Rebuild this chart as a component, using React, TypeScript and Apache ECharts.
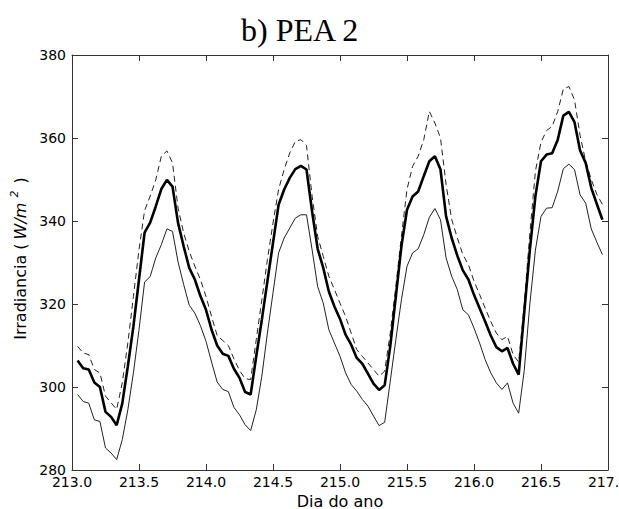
import React, { useEffect, useRef } from "react";
import * as echarts from "echarts";

// Day of year of the first sample, and spacing between samples (hourly)
const START_DAY = 213;
const SAMPLE_STEP = 1 / 24;
const FIRST_HOUR = 1;

// Irradiancia (W/m^2) — thick solid (middle)
const THICK: number[] = [
  306.4, 304.5, 304.2, 301.1, 300.0, 294.0, 292.8, 290.8, 296.0, 305.0,
  314.6, 325.9, 337.2, 339.6, 343.5, 347.7, 349.9, 348.3, 339.5, 333.9,
  328.7, 325.9, 321.9, 318.6, 313.8, 310.0, 308.0, 307.5, 304.4, 302.2,
  298.8, 298.2, 307.4, 316.2, 325.5, 334.7, 343.9, 347.6, 350.4, 352.5,
  353.3, 352.4, 342.3, 333.3, 328.7, 323.0, 319.4, 316.4, 312.6, 310.2,
  307.0, 305.6, 303.2, 300.8, 299.3, 300.4, 309.8, 321.8, 333.9, 342.7,
  345.9, 347.1, 350.8, 354.4, 355.6, 352.4, 341.1, 335.9, 331.7, 328.1,
  325.9, 322.2, 319.0, 315.8, 312.4, 309.6, 308.6, 309.4, 305.6, 303.0,
  318.0, 333.0, 346.0, 354.4, 356.0, 356.3, 359.6, 365.4, 366.3, 363.8,
  357.0, 354.0, 348.0, 344.1, 340.3,
];

// thin solid (lower)
const THIN: number[] = [
  298.2, 296.5, 296.1, 292.1, 291.7, 285.3, 284.1, 282.5, 287.3, 294.5,
  303.4, 313.8, 325.3, 326.6, 331.1, 334.3, 338.1, 337.5, 330.1, 324.7,
  319.7, 317.8, 314.8, 311.0, 306.0, 301.2, 299.4, 298.9, 295.1, 293.3,
  290.9, 289.5, 294.5, 302.6, 313.0, 322.7, 332.3, 335.9, 338.3, 340.7,
  341.5, 341.5, 333.1, 324.2, 320.2, 313.8, 310.6, 307.4, 303.4, 300.6,
  299.0, 297.0, 295.4, 293.0, 290.7, 291.5, 301.4, 311.4, 321.0, 329.1,
  332.3, 333.3, 336.7, 340.9, 343.0, 340.3, 331.1, 326.7, 323.5, 318.6,
  317.4, 314.2, 310.6, 306.6, 303.4, 301.0, 299.4, 301.0, 296.1, 293.7,
  304.0, 320.0, 333.0, 341.1, 343.1, 343.2, 347.2, 352.6, 353.7, 352.4,
  346.3, 344.3, 338.1, 334.9, 331.9,
];

// dashed (upper)
const DASHED: number[] = [
  309.8, 308.2, 307.8, 304.2, 303.4, 297.8, 296.2, 294.6, 301.0, 310.6,
  321.8, 333.1, 342.5, 346.0, 349.9, 355.6, 356.9, 354.0, 343.1, 337.1,
  332.7, 329.1, 325.9, 321.8, 317.0, 312.4, 311.2, 310.0, 306.8, 304.0,
  302.0, 301.8, 311.4, 321.0, 330.7, 339.5, 347.6, 352.4, 356.4, 359.2,
  359.6, 358.2, 346.0, 336.3, 331.5, 326.7, 323.5, 320.2, 317.0, 313.0,
  309.0, 307.4, 305.8, 304.2, 302.6, 303.8, 313.0, 324.3, 336.3, 347.6,
  353.2, 355.6, 359.6, 366.4, 363.6, 360.0, 348.8, 340.4, 336.0, 331.9,
  329.5, 325.5, 322.3, 319.0, 315.8, 313.0, 311.4, 312.2, 307.8, 306.0,
  320.0, 337.0, 352.0, 359.0, 361.8, 362.8, 366.4, 371.8, 372.4, 369.2,
  360.6, 354.4, 350.0, 346.4, 344.0,
];

const X_MIN = 213;
const X_MAX = 217;
const X_INTERVAL = 0.5;
const Y_MIN = 280;
const Y_MAX = 380;
const Y_INTERVAL = 20;

const TITLE = "b) PEA 2";
const X_NAME = "Dia do ano";

function toPairs(values: number[]): [number, number][] {
  return values.map((v, i) => [START_DAY + (FIRST_HOUR + i) * SAMPLE_STEP, v]);
}

const FONT = "DejaVu Sans";
const FRAME = "#333";
const W = 619;
const H = 509;

export default function App() {
  const ref = useRef<HTMLDivElement>(null);

  useEffect(() => {
    if (!ref.current) return;
    document.body.style.margin = "0";
    const chart = echarts.init(ref.current, undefined, { renderer: "svg", width: W, height: H });

    const axisLine = { show: true, lineStyle: { color: FRAME, width: 1 } };
    const axisTick = { show: true, inside: true, length: 6, lineStyle: { color: FRAME, width: 1 } };

    chart.setOption({
      animation: false,
      backgroundColor: "#fff",
      title: {
        text: TITLE,
        left: 236,
        top: 9,
        textStyle: {
          fontFamily: "Liberation Serif",
          fontSize: 32,
          fontWeight: "normal",
          color: "#000",
        },
      },
      grid: {
        left: 72,
        right: 11,
        top: 55,
        bottom: 39,
        containLabel: false,
        outerBoundsMode: "none",
      },
      xAxis: [
        {
          type: "value",
          position: "bottom",
          min: X_MIN,
          max: X_MAX,
          interval: X_INTERVAL,
          axisLine,
          axisTick,
          splitLine: { show: false },
          axisLabel: {
            show: true,
            margin: 5,
            fontFamily: FONT,
            fontSize: 14,
            color: "#000",
            showMinLabel: true,
            showMaxLabel: true,
            formatter: (v: number) => v.toFixed(1),
          },
          name: X_NAME,
          nameLocation: "middle",
          nameGap: 16,
          nameTextStyle: { fontFamily: FONT, fontSize: 16, lineHeight: 16, color: "#000" },
        },
        {
          type: "value",
          position: "top",
          min: X_MIN,
          max: X_MAX,
          interval: X_INTERVAL,
          axisLine,
          axisTick,
          splitLine: { show: false },
          axisLabel: { show: false },
        },
      ],
      yAxis: [
        {
          type: "value",
          position: "left",
          min: Y_MIN,
          max: Y_MAX,
          interval: Y_INTERVAL,
          axisLine,
          axisTick,
          splitLine: { show: false },
          axisLabel: {
            margin: 6,
            fontFamily: FONT,
            fontSize: 14,
            color: "#000",
          },
          name: "{n|Irradiancia (}{i|W/m}{s|2}{n| )}",
          nameLocation: "middle",
          nameGap: 37,
          nameTextStyle: {
            fontFamily: FONT,
            fontSize: 16,
            color: "#000",
            padding: [0, 0, 0, 8],
            rich: {
              n: { fontFamily: FONT, fontSize: 16, color: "#000", lineHeight: 22 },
              i: {
                fontFamily: FONT,
                fontSize: 16,
                fontStyle: "italic",
                color: "#000",
                lineHeight: 22,
                padding: [0, 4, 0, 4],
              },
              s: {
                fontFamily: FONT,
                fontSize: 11,
                fontStyle: "italic",
                color: "#000",
                verticalAlign: "top",
                lineHeight: 22,
                padding: [0, 2, 0, 1],
              },
            },
          },
        },
        {
          type: "value",
          position: "right",
          min: Y_MIN,
          max: Y_MAX,
          interval: Y_INTERVAL,
          axisLine,
          axisTick,
          splitLine: { show: false },
          axisLabel: { show: false },
        },
      ],
      series: [
        {
          name: "upper",
          type: "line",
          data: toPairs(DASHED),
          showSymbol: false,
          lineStyle: { color: "#222", width: 1, type: [6, 4] },
          z: 2,
        },
        {
          name: "lower",
          type: "line",
          data: toPairs(THIN),
          showSymbol: false,
          lineStyle: { color: "#222", width: 1, type: "solid" },
          z: 2,
        },
        {
          name: "mean",
          type: "line",
          data: toPairs(THICK),
          showSymbol: false,
          lineStyle: { color: "#000", width: 2.6, type: "solid" },
          z: 3,
        },
      ],
    });

    return () => chart.dispose();
  }, []);

  return (
    <div
      ref={ref}
      style={{ position: "fixed", left: 0, top: 0, width: W, height: H, background: "#fff", overflow: "hidden" }}
    />
  );
}
